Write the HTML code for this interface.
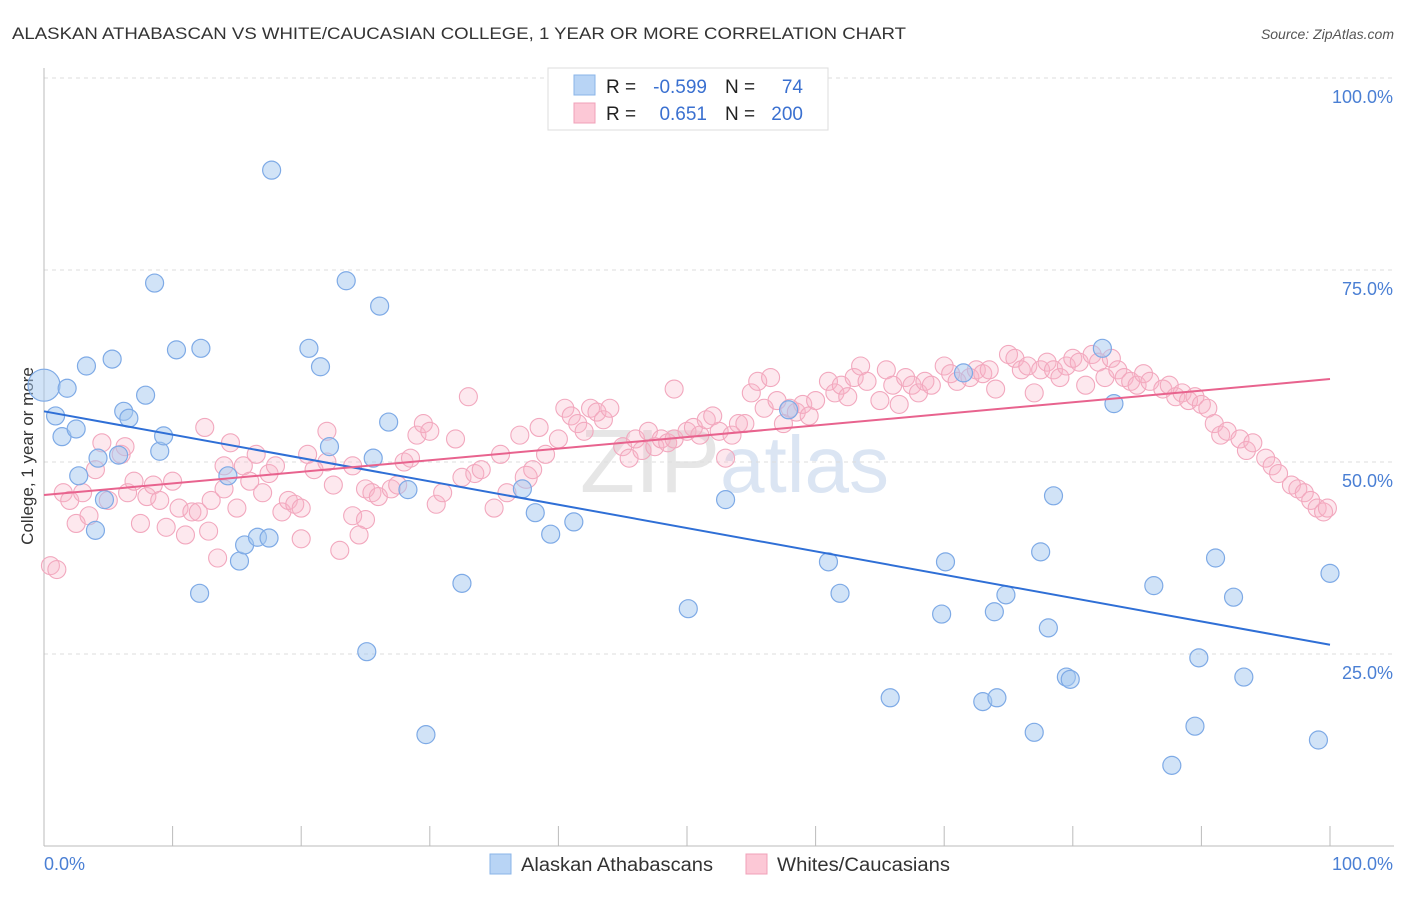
<!DOCTYPE html>
<html><head><meta charset="utf-8"><style>
body{margin:0;background:#fff;font-family:"Liberation Sans",sans-serif;}
svg text{font-family:"Liberation Sans",sans-serif;}
</style></head><body>
<svg id="chart" width="1406" height="892">
<text x="12" y="39" font-size="17" fill="#333" textLength="894" lengthAdjust="spacingAndGlyphs">ALASKAN ATHABASCAN VS WHITE/CAUCASIAN COLLEGE, 1 YEAR OR MORE CORRELATION CHART</text>
<text x="1394" y="39" font-size="14" fill="#555" text-anchor="end" font-style="italic">Source: ZipAtlas.com</text>
<text transform="translate(33,456) rotate(-90)" font-size="17" fill="#333" text-anchor="middle">College, 1 year or more</text>
<text x="720" y="492" font-size="90" fill="#e6e6e6" text-anchor="end" font-family="Liberation Serif">ZIP</text>
<text x="720" y="492" font-size="80" fill="#dbe5f3">atlas</text>
<g id="grid"></g><g id="pts"></g><g id="lines"></g>
<g>
<rect x="548" y="68" width="280" height="62" fill="#fff" stroke="#ddd"/>
<rect x="574" y="75" width="21" height="20" fill="#b8d4f5" stroke="#8ab4e8"/>
<rect x="574" y="103" width="21" height="20" fill="#fcc8d6" stroke="#f0a0b8"/>
<text x="606" y="93" font-size="19" fill="#222">R =</text><text x="707" y="93" font-size="19" fill="#3a70d0" text-anchor="end">-0.599</text>
<text x="725" y="93" font-size="19" fill="#222">N =</text><text x="803" y="93" font-size="19" fill="#3a70d0" text-anchor="end">74</text>
<text x="606" y="120" font-size="19" fill="#222">R =</text><text x="707" y="120" font-size="19" fill="#3a70d0" text-anchor="end">0.651</text>
<text x="725" y="120" font-size="19" fill="#222">N =</text><text x="803" y="120" font-size="19" fill="#3a70d0" text-anchor="end">200</text>
</g>
<g>
<rect x="490" y="854" width="21" height="20" fill="#b8d4f5" stroke="#8ab4e8"/>
<text x="521" y="871" font-size="19" fill="#333" textLength="192" lengthAdjust="spacingAndGlyphs">Alaskan Athabascans</text>
<rect x="746" y="854" width="21" height="20" fill="#fcc8d6" stroke="#f0a0b8"/>
<text x="777" y="871" font-size="19" fill="#333" textLength="173" lengthAdjust="spacingAndGlyphs">Whites/Caucasians</text>
</g>
</svg>
<script>
const yTicks=[25,50,75,100];
const blueX=[0,0.9,1.8,1.4,2.5,3.3,2.7,4.0,4.2,4.7,5.3,5.8,6.2,6.6,7.9,8.6,9.0,9.3,10.3,12.1,12.2,14.3,15.2,15.6,16.6,17.5,17.7,20.6,21.5,22.2,23.5,25.1,25.6,26.1,26.8,28.3,29.7,32.5,37.2,38.2,39.4,41.2,50.1,53.0,57.9,61.0,61.9,65.8,69.8,70.1,71.5,73.0,73.9,74.1,74.8,77.0,77.5,78.1,78.5,79.5,79.8,82.3,83.2,86.3,87.7,89.5,89.8,91.1,92.5,93.3,99.1,100];
const blueY=[60.0,56.0,59.6,53.3,54.3,62.5,48.2,41.1,50.5,45.1,63.4,50.9,56.6,55.7,58.7,73.3,51.4,53.4,64.6,32.9,64.8,48.2,37.1,39.2,40.2,40.1,88.0,64.8,62.4,52.0,73.6,25.3,50.5,70.3,55.2,46.4,14.5,34.2,46.5,43.4,40.6,42.2,30.9,45.1,56.8,37.0,32.9,19.3,30.2,37.0,61.6,18.8,30.5,19.3,32.7,14.8,38.3,28.4,45.6,22.0,21.7,64.8,57.6,33.9,10.5,15.6,24.5,37.5,32.4,22.0,13.8,35.5];
const pinkX=[0.5,1,1.5,2,2.5,3,3.5,4,4.5,5,6,6.5,7,7.5,8,8.5,9,9.5,10,10.5,11,11.5,12,12.5,12.8,13,14,14,14.5,15,15.5,16,16.5,17,17.5,18,18.5,19,19.5,20,20,20.5,21,22,22,23,22.5,24,24,25,25,24.5,25.5,26,27,27.5,28,28.5,29,29.5,30,30.5,31,32,32.5,33,33.5,34,35,35.5,36,37,37.5,38,38.5,39,40,40.5,41,41.5,42,42.5,43,43.5,44,45,45.5,46,46.5,47,47.5,48,48.5,49,49,50,50.5,51,51.5,52,52.5,53,53.5,54,54.5,55,55.5,56,56.5,57,57.5,58,58.5,59,59.5,60,61,61.5,62,62.5,63,63.5,64,65,65.5,66,66.5,67,67.5,68,68.5,69,70,70.5,71,72,72.5,73,73.5,74,75,75.5,76,76.5,77,77.5,78,78.5,79,79.5,80,80.5,81,81.5,82,82.5,83,83.5,84,84.5,85,85.5,86,87,87.5,88,88.5,89,89.5,90,90.5,91,91.5,92,93,93.5,94,95,95.5,96,97,97.5,98,98.5,99,99.5,99.8,6.3,13.5];
const pinkY=[36.5,36,46,45,42,46,43,49,52.5,45,51,46,47.5,42,45.5,47,45,41.5,47.5,44,40.5,43.5,43.5,54.5,41,45,49.5,46.5,52.5,44,49.5,47.5,51,46,48.5,49.5,43.5,45,44.5,40,44,51,49,50,54,38.5,47,43,49.5,42.5,46.5,40.5,46,45.5,46.5,47,50,50.5,53.5,55,54,44.5,46,53,48,58.5,48.5,49,44,51,46,53.5,48,49,54.5,51,53,57,56,55,54,57,56.5,55.5,57,52,50.5,53,51.5,54,52,53,52.5,53,59.5,54,54.5,53.5,55.5,56,54,50.5,53.5,55,55,59,60.5,57,61,58,55,57,56.5,57.5,56,58,60.5,59,60,58.5,61,62.5,60.5,58,62,60,57.5,61,60,59,60.5,60,62.5,61.5,60.5,61,62,61.5,62,59.5,64,63.5,62,62.5,59,62,63,62,61,62.5,63.5,63,60,64,63,61,63.5,62,61,60.5,60,61.5,60.5,59.5,60,58.5,59,58,58.5,57.5,57,55,53.5,54,53,51.5,52.5,50.5,49.5,48.5,47,46.5,46,45,44,43.5,44,52,37.5];
const blueTrend=[56.6,26.2];
const pinkTrend=[45.7,60.8];
const X0=44,X1=1330,Y0=846,Y100=78;
const sx=v=>X0+(X1-X0)*v/100, sy=v=>Y0-(Y0-Y100)*v/100;
const NS="http://www.w3.org/2000/svg";
function mk(t,a,p){const e=document.createElementNS(NS,t);for(const k in a)e.setAttribute(k,a[k]);p.appendChild(e);return e;}
const grid=document.getElementById('grid');
yTicks.forEach(t=>{
 const l=mk('line',{x1:44,x2:1394,y1:sy(t),y2:sy(t),stroke:'#ddd','stroke-dasharray':'4,4'},grid);
 
 
 const tx=mk('text',{x:1393,y:sy(t)+25,'font-size':18,fill:'#4a7fd4','text-anchor':'end'},grid);
 tx.textContent=t.toFixed(1)+'%';
 
 
});
const ax=mk('line',{x1:44,x2:44,y1:68,y2:846,stroke:'#bbb'},grid);


const bx=mk('line',{x1:44,x2:1394,y1:846,y2:846,stroke:'#bbb'},grid);


for(let i=0;i<=10;i++){const t=mk('line',{x1:sx(i*10),x2:sx(i*10),y1:826,y2:846,stroke:'#bbb'},grid);
 
 }
[[0,'0.0%','start',44],[100,'100.0%','end',1393]].forEach(d=>{const t=mk('text',{x:d[3],y:870,'font-size':18,fill:'#4a7fd4','text-anchor':d[2]},grid);t.textContent=d[1];
 
 });
const pts=document.getElementById('pts');
pinkX.forEach((x,i)=>{const c=mk('circle',{cx:sx(x),cy:sy(pinkY[i]),r:i==72?11:9,fill:'rgba(248,180,200,0.3)',stroke:'#f2a8be','stroke-width':1.1},pts);
 
 });
blueX.forEach((x,i)=>{const c=mk('circle',{cx:sx(x),cy:sy(blueY[i]),r:i==0?16:9,fill:'rgba(164,200,240,0.5)',stroke:'#7eaae6','stroke-width':1.2},pts);
 
 });
const lines=document.getElementById('lines');
const bl=mk('line',{x1:sx(0),y1:sy(blueTrend[0]),x2:sx(100),y2:sy(blueTrend[1]),stroke:'#2f6fd6','stroke-width':2},lines);


const pl=mk('line',{x1:sx(0),y1:sy(pinkTrend[0]),x2:sx(100),y2:sy(pinkTrend[1]),stroke:'#e8638e','stroke-width':2},lines);


</script>
</body></html>
